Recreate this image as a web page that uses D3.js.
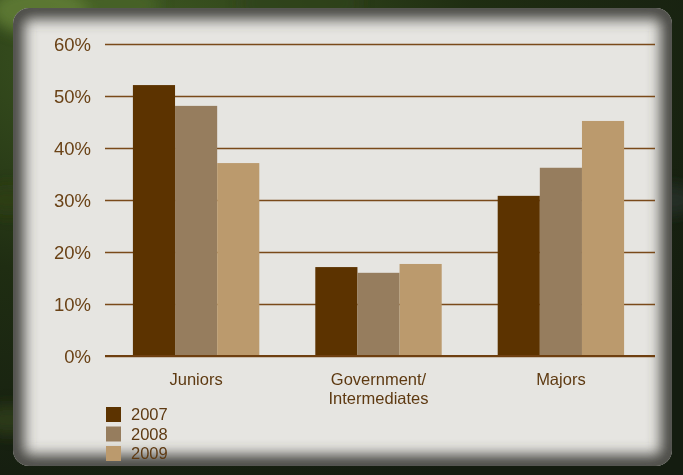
<!DOCTYPE html>
<html>
<head>
<meta charset="utf-8">
<script src="https://cdn.jsdelivr.net/npm/d3@7"></script>
<style>
  html, body { margin: 0; padding: 0; background: #1c2410; }
  svg { display: block; }
</style>
</head>
<body>
<div id="chart"></div>
<script>
// data
const categories = ['Juniors', 'Government/\nIntermediates', 'Majors'];
const years = ['2007', '2008', '2009'];
const values2007 = [52.1, 17.1, 30.8];
const values2008 = [48.1, 16.0, 36.2];
const values2009 = [37.1, 17.7, 45.2];
const yTicks = [0, 10, 20, 30, 40, 50, 60];
const colors = ['#5c3300', '#967d5e', '#bb9a6d'];

const W = 683, H = 475;
const margin = { left: 105, right: 28, top: 44, bottom: 119 };

const svg = d3.select('#chart').append('svg').attr('width', W).attr('height', H);
const defs = svg.append('defs');

// forest background
const bg = defs.append('radialGradient').attr('id', 'forest').attr('cx', '20%').attr('cy', '10%').attr('r', '100%');
bg.append('stop').attr('offset', '0%').attr('stop-color', '#3f5a22');
bg.append('stop').attr('offset', '50%').attr('stop-color', '#1f2d12');
bg.append('stop').attr('offset', '100%').attr('stop-color', '#141c10');
svg.append('rect').attr('width', W).attr('height', H).attr('fill', 'url(#forest)');

defs.append('filter').attr('id', 'blur').attr('x', '-20%').attr('y', '-20%').attr('width', '140%').attr('height', '140%')
    .append('feGaussianBlur').attr('stdDeviation', 7);

// some foliage blotches
const blotches = [[40, 10, 50, '#6c8a3a'], [120, 5, 40, '#4d6a2a'], [10, 200, 30, '#2c3e16'], [300, 3, 60, '#2e4218'],
    [670, 200, 30, '#2b3430'], [10, 420, 30, '#33421c']];
svg.append('g').attr('filter', 'url(#blur)').selectAll('ellipse').data(blotches).join('ellipse')
    .attr('cx', d => d[0]).attr('cy', d => d[1]).attr('rx', d => d[2]).attr('ry', d => d[2] * 0.5)
    .attr('fill', d => d[3]).attr('opacity', 0.7);

// panel with inner shadow
const px = 13, py = 8, pw = 659, ph = 458, pr = 16;
defs.append('clipPath').attr('id', 'panelClip')
    .append('rect').attr('x', px).attr('y', py).attr('width', pw).attr('height', ph).attr('rx', pr);
const panel = svg.append('g').attr('clip-path', 'url(#panelClip)');
panel.append('rect').attr('x', px).attr('y', py).attr('width', pw).attr('height', ph).attr('fill', '#e6e5e1');
panel.append('rect').attr('x', px).attr('y', py).attr('width', pw).attr('height', ph).attr('rx', pr)
    .attr('fill', 'none').attr('stroke', '#44443f').attr('stroke-width', 22).attr('filter', 'url(#blur)');

// scales
const x0 = d3.scaleBand().domain(categories).range([margin.left, 652])
    .paddingInner(0.307).paddingOuter(0.153);
const x1 = d3.scaleBand().domain(years).range([0, x0.bandwidth()]);
const y = d3.scaleLinear().domain([0, 60]).range([H - margin.bottom, margin.top]);

// grid
const yAxis = d3.axisLeft(y).tickValues(yTicks).tickSize(-(W - margin.left - margin.right))
    .tickFormat(d => d + '%').tickPadding(14);
const gy = svg.append('g').attr('transform', `translate(${margin.left},0)`).call(yAxis);
gy.select('.domain').remove();
gy.selectAll('.tick line').attr('stroke', '#7a4a1a').attr('stroke-width', 1.6);
gy.selectAll('.tick text').attr('fill', '#6a4216').attr('font-family', 'Liberation Sans, Arial, sans-serif')
    .attr('font-size', 18.5).attr('dy', '0.36em');

// bars
const series = [values2007, values2008, values2009];
const groups = svg.append('g').selectAll('g').data(categories).join('g')
    .attr('transform', d => `translate(${x0(d)},0)`);
groups.selectAll('rect').data((d, i) => years.map((yr, j) => ({ yr, v: series[j][i], j }))).join('rect')
    .attr('x', d => x1(d.yr)).attr('width', x1.bandwidth())
    .attr('y', d => y(d.v)).attr('height', d => y(0) - y(d.v))
    .attr('fill', d => colors[d.j]);

// baseline over bars
svg.append('line').attr('x1', margin.left).attr('x2', W - margin.right)
    .attr('y1', y(0)).attr('y2', y(0)).attr('stroke', '#6e3f10').attr('stroke-width', 1.8);

// category labels
const labels = svg.append('g').selectAll('text').data(categories).join('text')
    .attr('x', d => x0(d) + x0.bandwidth() / 2).attr('y', 385)
    .attr('text-anchor', 'middle').attr('fill', '#5e3a12')
    .attr('font-family', 'Liberation Sans, Arial, sans-serif').attr('font-size', 16.5);
labels.selectAll('tspan').data(d => d.split('\n')).join('tspan')
    .attr('x', function () { return d3.select(this.parentNode).attr('x'); })
    .attr('dy', (d, i) => i === 0 ? 0 : 19).text(d => d);

// legend
const legend = svg.append('g').selectAll('g').data(years).join('g')
    .attr('transform', (d, i) => `translate(106,${407 + i * 19.5})`);
legend.append('rect').attr('width', 15).attr('height', 15).attr('fill', (d, i) => colors[i]);
legend.append('text').attr('x', 25).attr('y', 13).text(d => d)
    .attr('fill', '#5e3a12').attr('font-family', 'Liberation Sans, Arial, sans-serif').attr('font-size', 16.5);
</script>
</body>
</html>
